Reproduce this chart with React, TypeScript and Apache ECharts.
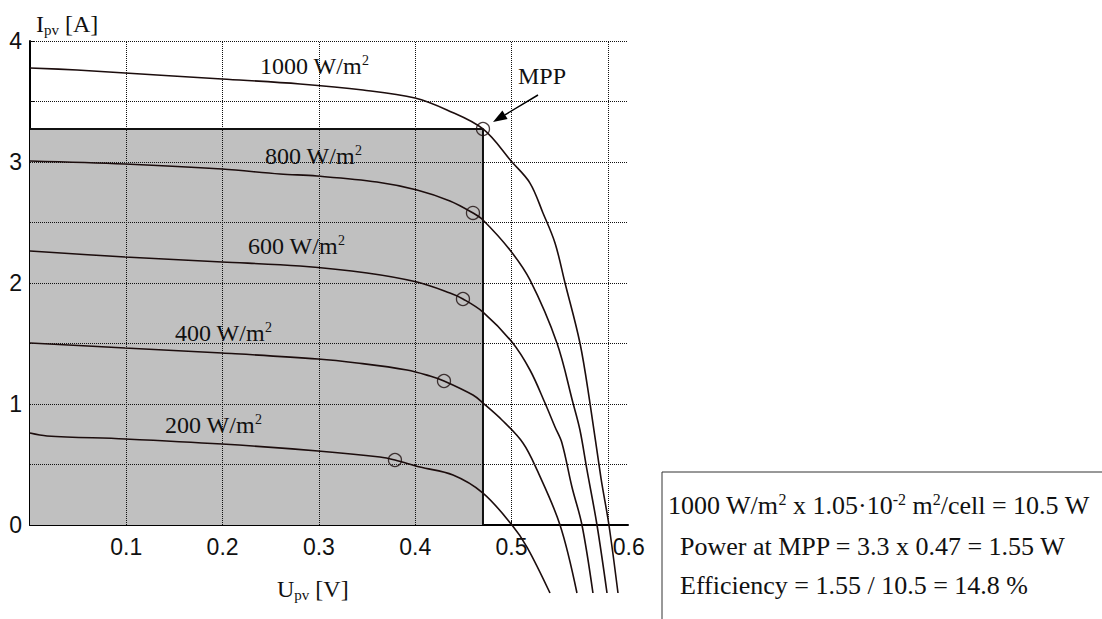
import React, { useEffect, useRef } from "react";
import * as echarts from "echarts";

// ---- data ----
const xTickValues = [0.1, 0.2, 0.3, 0.4, 0.5, 0.6];
const yTickValues = [0, 0.5, 1, 1.5, 2, 2.5, 3, 3.5, 4];
const yLabelValues = [0, 1, 2, 3, 4];
const gridXValues = [0.1, 0.2, 0.3, 0.4, 0.5, 0.6];
const gridYValues = [0.5, 1, 1.5, 2, 2.5, 3, 3.5, 4];
const xMin = 0;
const xMax = 0.621;
const yMin = 0;
const yMax = 4;

const irradiances = ["1000", "800", "600", "400", "200"];

const u1000 = [0, 0.0488, 0.0987, 0.1485, 0.1994, 0.2804, 0.3458, 0.3998, 0.433, 0.4704, 0.5005, 0.5192, 0.5327, 0.5452, 0.5556, 0.5711, 0.5815, 0.5929, 0.6012, 0.6106];
const i1000 = [3.777, 3.76, 3.736, 3.711, 3.686, 3.645, 3.595, 3.529, 3.43, 3.273, 3.0, 2.826, 2.579, 2.331, 2.0, 1.504, 1.008, 0.39, 0, -0.562];

const u800 = [0, 0.0987, 0.1994, 0.2596, 0.298, 0.3603, 0.4019, 0.4361, 0.46, 0.4704, 0.4984, 0.5192, 0.5472, 0.5639, 0.5711, 0.5784, 0.5888, 0.5992];
const i800 = [3.008, 2.983, 2.942, 2.901, 2.884, 2.835, 2.769, 2.678, 2.579, 2.521, 2.273, 2.025, 1.504, 1.008, 0.785, 0.455, 0, -0.562];

const u600 = [0, 0.0987, 0.1994, 0.2804, 0.35, 0.4019, 0.4361, 0.4496, 0.4704, 0.5005, 0.5192, 0.5348, 0.5452, 0.5524, 0.5628, 0.5732, 0.5846];
const i600 = [2.264, 2.215, 2.174, 2.14, 2.083, 2.008, 1.917, 1.868, 1.76, 1.512, 1.281, 1.008, 0.81, 0.678, 0.314, 0, -0.562];

const u400 = [0, 0.0987, 0.1994, 0.2991, 0.3396, 0.3915, 0.4154, 0.4299, 0.46, 0.4704, 0.4901, 0.5119, 0.5265, 0.5504, 0.568];
const i400 = [1.504, 1.463, 1.421, 1.372, 1.339, 1.281, 1.231, 1.19, 1.074, 1.008, 0.868, 0.678, 0.455, 0, -0.562];

const u200 = [0, 0.0177, 0.0987, 0.1994, 0.2991, 0.3634, 0.379, 0.405, 0.4393, 0.4704, 0.5005, 0.5161, 0.54];
const i200 = [0.76, 0.736, 0.711, 0.669, 0.612, 0.562, 0.537, 0.479, 0.413, 0.264, 0, -0.182, -0.562];

const mppU = [0.4704, 0.46, 0.4496, 0.4299, 0.379];
const mppI = [3.273, 2.579, 1.868, 1.19, 0.537];

const curveU = [u1000, u800, u600, u400, u200];
const curveI = [i1000, i800, i600, i400, i200];

const boxLines = [
  "1000 W/m{sup|2} x 1.05·10{sup|-2} m{sup|2}/cell = 10.5 W",
  "Power at MPP = 3.3 x 0.47 = 1.55 W",
  "Efficiency = 1.55 / 10.5 = 14.8 %",
];

const SERIF = "'Liberation Serif', 'Times New Roman', serif";
const SANS = "'Liberation Sans', Arial, sans-serif";
const INK = "#1c0d0d";

function zip(a: number[], b: number[]) {
  return a.map((v, k) => [v, b[k]]);
}

export default function App() {
  const ref = useRef<HTMLDivElement>(null);

  useEffect(() => {
    document.body.style.margin = "0";
    if (!ref.current) return;
    const chart = echarts.init(ref.current, null, { renderer: "svg" });

    const gridStyle = { color: "#111", width: 1, type: [1, 1] as any };

    const markLineData: any[] = [];
    gridXValues.forEach((x) =>
      markLineData.push([{ coord: [x, yMin] }, { coord: [x, yMax] }])
    );
    gridYValues.forEach((y) =>
      markLineData.push([{ coord: [xMin, y] }, { coord: [xMax, y] }])
    );

    const curveSeries = curveU.map((u, k) => ({
      name: irradiances[k] + " W/m2",
      type: "line",
      data: zip(u, curveI[k]),
      smooth: 0.35,
      symbol: "none",
      clip: false,
      z: 4,
      lineStyle: { color: INK, width: 1.6 },
    }));

    const serifLabel = (text: string, x: number, y: number, size = 24) => ({
      type: "text",
      x,
      y,
      z: 10,
      style: {
        text,
        fontFamily: SERIF,
        fontSize: size,
        lineHeight: size + 2,
        fill: "#111",
        align: "left",
        verticalAlign: "top",
        rich: {
          sup: { fontFamily: SERIF, fontSize: Math.round(size * 0.6), lineHeight: Math.round(size * 0.6), verticalAlign: "top", fill: "#111" },
          sub: { fontFamily: SERIF, fontSize: Math.round(size * 0.62), lineHeight: 11, verticalAlign: "bottom", fill: "#111" },
        },
      },
    });

    const axisFont = { fontSize: 23, fontFamily: SANS, color: "#111" };

    chart.setOption({
      animation: false,
      grid: { left: 30, top: 41, right: 474, bottom: 94, containLabel: false },
      xAxis: {
        type: "value",
        min: xMin,
        max: xMax,
        axisLine: { show: true, onZero: false, lineStyle: { color: "#000", width: 2 } },
        axisTick: { show: true, inside: true, length: 5, customValues: xTickValues, lineStyle: { color: "#000", width: 1 } },
        axisLabel: {
          customValues: xTickValues,
          margin: 10,
          ...axisFont,
          formatter: (v: number) => (v === xTickValues[xTickValues.length - 1] ? "{shift|" + v + "}" : String(v)),
          rich: { shift: { ...axisFont, padding: [0, 0, 0, 42] } },
        },
        splitLine: { show: false },
      },
      yAxis: {
        type: "value",
        min: yMin,
        max: yMax,
        axisLine: { show: true, onZero: false, lineStyle: { color: "#000", width: 2 } },
        axisTick: { show: true, inside: true, length: 5, customValues: yTickValues, lineStyle: { color: "#000", width: 1 } },
        axisLabel: { customValues: yLabelValues, margin: 8, ...axisFont },
        splitLine: { show: false },
      },
      series: [
        {
          name: "MPP power",
          type: "line",
          data: [[xMin, mppI[0]], [mppU[0], mppI[0]], [mppU[0], yMin]],
          symbol: "none",
          z: 1,
          lineStyle: { color: "#111", width: 2 },
          areaStyle: { color: "#c0c0c0", opacity: 1 },
          markLine: {
            silent: true,
            z: 2,
            symbol: ["none", "none"],
            label: { show: false },
            lineStyle: gridStyle,
            data: markLineData,
          },
        },
        ...curveSeries,
        {
          name: "MPP",
          type: "scatter",
          data: zip(mppU, mppI),
          symbol: "circle",
          symbolSize: 13,
          z: 5,
          itemStyle: { color: "rgba(0,0,0,0)", borderColor: INK, borderWidth: 1.3 },
        },
      ],
      graphic: [
        serifLabel("1000 W/m{sup|2}", 260, 53),
        serifLabel("800 W/m{sup|2}", 265, 143),
        serifLabel("600 W/m{sup|2}", 248, 233),
        serifLabel("400 W/m{sup|2}", 175, 320),
        serifLabel("200 W/m{sup|2}", 165, 412),
        serifLabel("MPP", 518, 63),
        serifLabel("I{sub|pv} [A]", 36, 11),
        serifLabel("U{sub|pv} [V]", 277, 576),
        {
          type: "line",
          z: 10,
          shape: { x1: 538, y1: 95, x2: 505, y2: 114.8 },
          style: { stroke: "#000", lineWidth: 1.5 },
        },
        {
          type: "polygon",
          z: 10,
          shape: { points: [[493, 122], [507.6, 119.1], [502.4, 110.5]] },
          style: { fill: "#000" },
        },
        {
          type: "rect",
          z: 10,
          shape: { x: 662, y: 472, width: 500, height: 200 },
          style: { fill: "#fff", stroke: "#333", lineWidth: 1 },
        },
        serifLabel(boxLines[0], 668, 491, 26),
        serifLabel(boxLines[1], 680, 532, 26),
        serifLabel(boxLines[2], 680, 571, 26),
      ],
    });

    return () => chart.dispose();
  }, []);

  return <div ref={ref} style={{ width: 1102, height: 619 }} />;
}
